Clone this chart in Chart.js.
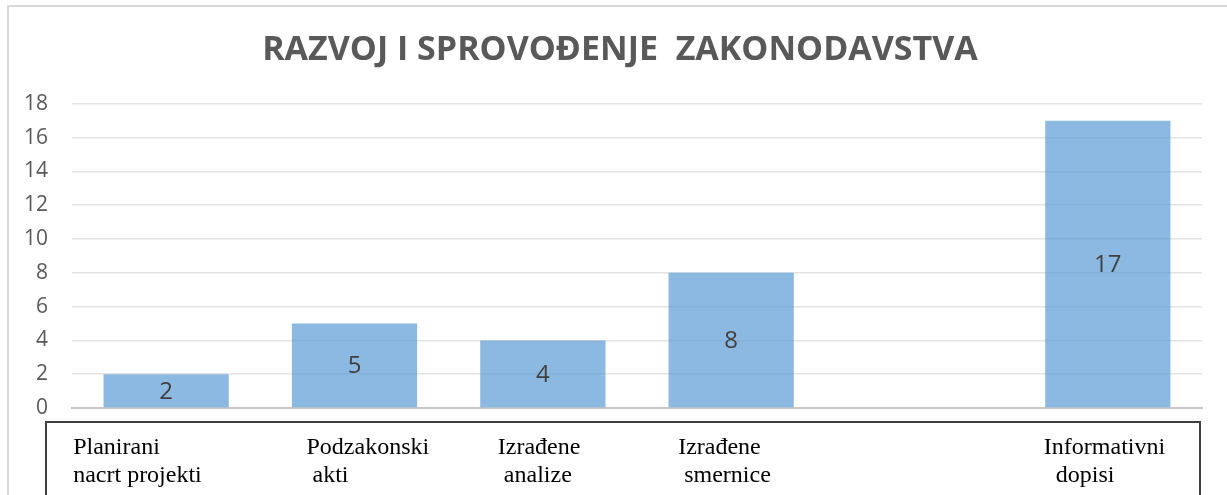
<!DOCTYPE html>
<html>
<head>
<meta charset="utf-8">
<script src="https://cdn.jsdelivr.net/npm/chart.js@4.4.1/dist/chart.umd.min.js"></script>
<style>
  html, body { margin: 0; padding: 0; background: #fff; }
  #wrap { position: relative; width: 1227px; height: 495px; }
  #frame { position: absolute; left: 7px; top: 5px; width: 1240px; height: 500px;
           border-left: 2px solid #d9d9d9; border-top: 2px solid #d9d9d9; box-sizing: border-box; }
  canvas { position: absolute; left: 0; top: 0; }
</style>
</head>
<body>
<div id="wrap">
  <div id="frame"></div>
  <canvas id="barChart" width="1227" height="495"></canvas>
</div>
<script>
  'use strict';
  // data
  var categories = [
    ["Planirani", "nacrt projekti"],
    ["Podzakonski", " akti"],
    ["Izrađene", " analize"],
    ["Izrađene", " smernice"],
    ["", ""],
    ["Informativni", "  dopisi"]
  ];
  var values = [2, 5, 4, 8, null, 17];
  var yTicks = [0, 2, 4, 6, 8, 10, 12, 14, 16, 18];
  var chartTitle = "RAZVOJ I SPROVOĐENJE  ZAKONODAVSTVA";

  // where each typed label sits relative to its category centre
  var labelShift = [-93, -48, -45, -53, 0, -64];

  var barLabels = {
    id: 'barLabels',
    afterDatasetsDraw: function(chart) {
      var ctx = chart.ctx;
      var meta = chart.getDatasetMeta(0);
      ctx.save();
      ctx.font = '24px "Open Sans"';
      ctx.fillStyle = '#404040';
      ctx.textAlign = 'center';
      ctx.textBaseline = 'middle';
      meta.data.forEach(function(bar, i) {
        if (values[i] == null) return;
        ctx.fillText(String(values[i]), bar.x, (bar.y + bar.base) / 2 + 1);
      });
      ctx.restore();
    }
  };

  var labelBox = {
    id: 'labelBox',
    afterDraw: function(chart) {
      var ctx = chart.ctx;
      var area = chart.chartArea;
      var x = chart.scales.x;
      var top = area.bottom + 14;
      ctx.save();
      ctx.strokeStyle = '#404040';
      ctx.lineWidth = 2;
      ctx.beginPath();
      ctx.moveTo(area.left - 26, chart.height + 5);
      ctx.lineTo(area.left - 26, top);
      ctx.lineTo(area.right - 2, top);
      ctx.lineTo(area.right - 2, chart.height + 5);
      ctx.stroke();
      ctx.font = '24px "Liberation Serif", "Times New Roman", serif';
      ctx.fillStyle = '#000';
      ctx.textAlign = 'left';
      ctx.textBaseline = 'alphabetic';
      categories.forEach(function(lines, i) {
        var cx = x.getPixelForValue(i) + labelShift[i];
        ctx.fillText(lines[0], cx, top + 32);
        ctx.fillText(lines[1], cx, top + 60);
      });
      ctx.restore();
    }
  };

  var ctx = document.getElementById('barChart').getContext('2d');
  var barChart = new Chart(ctx, {
    type: 'bar',
    data: {
      labels: categories,
      datasets: [{
        data: values,
        backgroundColor: 'rgba(91, 155, 213, 0.7)',
        borderWidth: 0,
        categoryPercentage: 1,
        barPercentage: 0.665
      }]
    },
    options: {
      responsive: false,
      animation: false,
      layout: { padding: { left: 13, right: 0, top: 0, bottom: 0 } },
      plugins: {
        legend: { display: false },
        tooltip: { enabled: false },
        title: {
          display: true,
          text: chartTitle,
          color: '#595959',
          font: { family: '"Open Sans"', size: 34, weight: 'bold', lineHeight: 1.2 },
          padding: { top: 30, bottom: 33 }
        }
      },
      scales: {
        x: {
          grid: { display: false },
          border: { color: '#c8c8c8', width: 2 },
          ticks: { display: false },
          afterFit: function(scale) { scale.height = 87; }
        },
        y: {
          min: 0,
          max: 18,
          afterBuildTicks: function(scale) {
            scale.ticks = yTicks.map(function(v) { return { value: v }; });
          },
          grid: { color: '#e4e4e4', lineWidth: 1.5, drawTicks: false },
          border: { display: false },
          ticks: {
            color: '#595959',
            font: { family: '"Open Sans"', size: 21 },
            padding: 24
          },
          afterFit: function(scale) { scale.width = 59; }
        },
        // empty right margin, keeps the plot clear of the right edge
        spacer: {
          type: 'linear',
          position: 'right',
          grid: { display: false },
          border: { display: false },
          ticks: { display: false },
          afterFit: function(scale) { scale.width = 25; }
        }
      }
    },
    plugins: [barLabels, labelBox]
  });
</script>
</body>
</html>
